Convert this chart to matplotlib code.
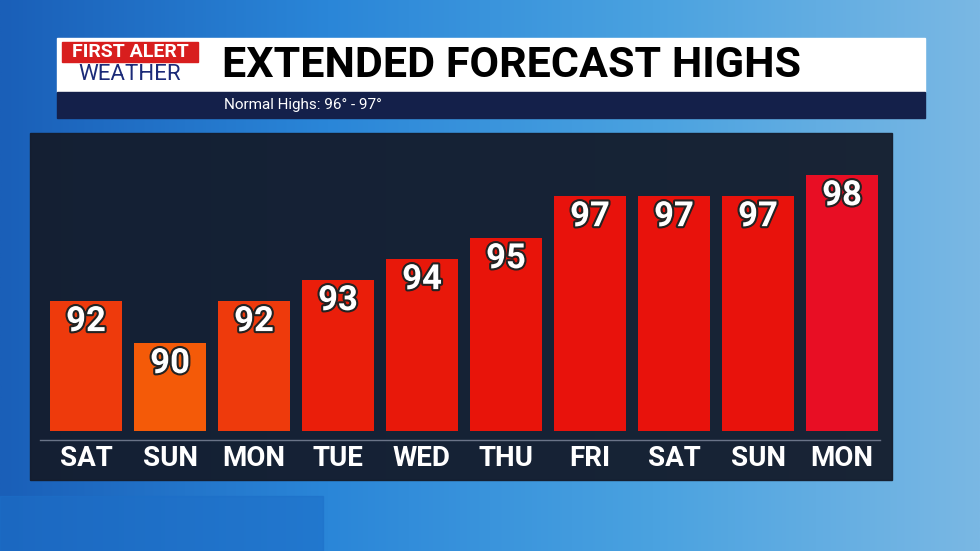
import matplotlib
matplotlib.use("Agg")
import matplotlib.pyplot as plt
import numpy as np
from matplotlib.patches import Rectangle
import matplotlib.patheffects as pe
from matplotlib.colors import LinearSegmentedColormap

days = ["SAT", "SUN", "MON", "TUE", "WED", "THU", "FRI", "SAT", "SUN", "MON"]
highs = [92, 90, 92, 93, 94, 95, 97, 97, 97, 98]
colors = ["#EE3A0C", "#F45A08", "#EE3A0C", "#EA1E0A", "#E8180A", "#E8140A",
          "#E8120C", "#E8120C", "#E8120C", "#E80E24"]

W, H = 980, 551
fig = plt.figure(figsize=(W/100, H/100), dpi=100)

def px(x, y, w, h):
    return [x/W, 1-(y+h)/H, w/W, h/H]

bg = fig.add_axes([0, 0, 1, 1]); bg.axis("off")
g = np.linspace(0, 1, 256)
grad = np.outer(np.ones(256), g)
cm = LinearSegmentedColormap.from_list("b", ["#1a5fb8", "#2a86d8", "#4aa2e0", "#7ab8e4"])
bg.imshow(grad, cmap=cm, aspect="auto", extent=[0, 1, 0, 1])
bg.set_xlim(0, 1); bg.set_ylim(0, 1)
bg.add_patch(Rectangle((0, 0), 0.33, 0.1, color="#1d6fc8", alpha=0.6))
bg.add_patch(Rectangle((30/W, 1-480/H), 862/W, 347/H, color="#141c2c", alpha=0.95))
bg.plot([40/W, 880/W], [1-440/H]*2, color="#6a7488", lw=1)
# header
bg.add_patch(Rectangle((57/W, 1-92/H), 868/W, 54/H, color="white"))
bg.add_patch(Rectangle((57/W, 1-118/H), 868/W, 26/H, color="#14204a"))
bg.add_patch(Rectangle((62/W, 1-62/H), 136/W, 20/H, color="#d81e1e"))

ax = fig.add_axes(px(44, 133, 840, 298))
ax.set_facecolor("none")
lo = 85.8
x = np.arange(len(days))
ax.bar(x, np.array(highs) - lo, bottom=lo, width=0.86, color=colors)
for xi, h in zip(x, highs):
    ax.text(xi, h - 0.2, str(h), ha="center", va="top", fontsize=25, fontweight="bold",
            color="white", family="Roboto",
            path_effects=[pe.withStroke(linewidth=3, foreground="#222")])
ax.set_xlim(-0.5, 9.5); ax.set_ylim(lo, 100)
ax.axis("off")
for xi, d in zip(x, days):
    fig.text((44 + 84*xi + 42)/W, 1-458/H, d, ha="center", va="center", fontsize=20,
             fontweight="bold", color="white", family="Roboto")

fig.text(130/W, 1-52/H, "FIRST ALERT", ha="center", va="center", fontsize=14,
         fontweight="bold", color="white", family="Roboto")
fig.text(130/W, 1-74/H, "WEATHER", ha="center", va="center", fontsize=16,
         color="#1b2a78", family="Roboto")
fig.text(222/W, 1-65/H, "EXTENDED FORECAST HIGHS", ha="left", va="center", fontsize=31,
         fontweight="bold", color="black", family="Roboto")
fig.text(224/W, 1-105/H, "Normal Highs: 96° - 97°", ha="left", va="center", fontsize=11,
         color="white", family="Roboto")

fig.savefig("out.png", dpi=100)
